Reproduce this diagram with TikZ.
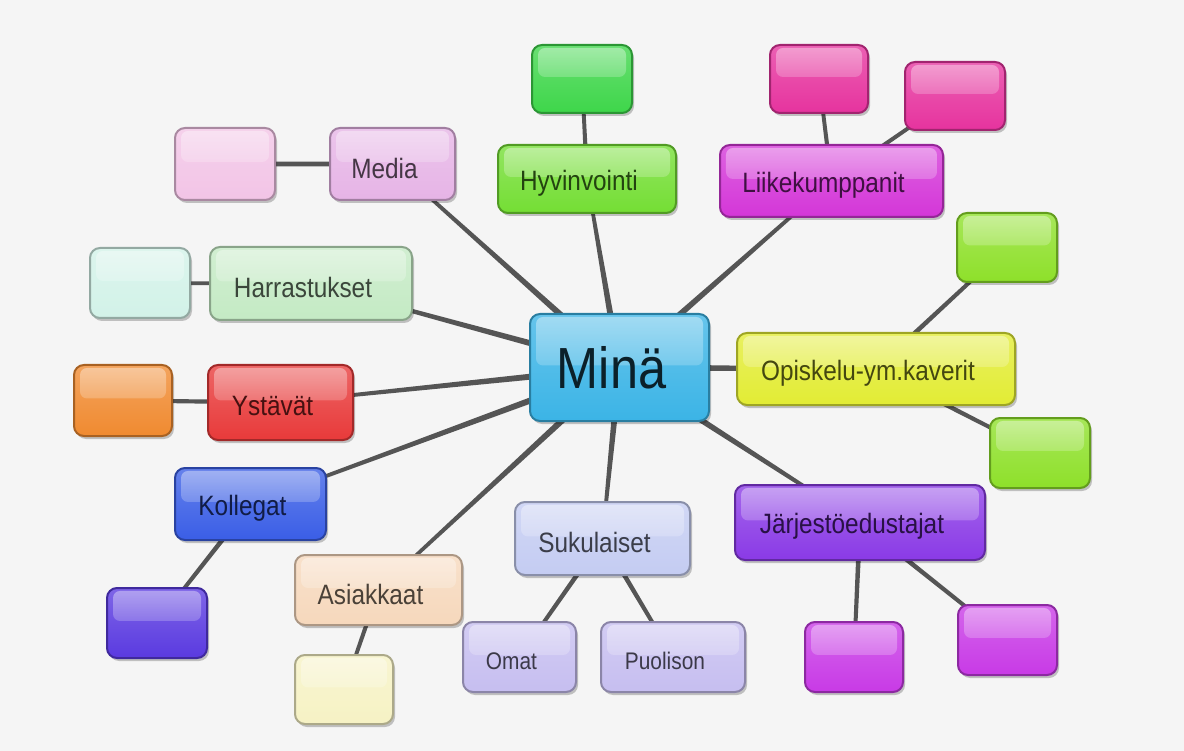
\documentclass[tikz,border=0pt]{standalone}
\usepackage{fontspec}
\setmainfont{Liberation Sans}[FakeStretch=0.87]
\usetikzlibrary{calc,shadows,backgrounds,fadings}
\definecolor{cMina}{HTML}{3BB4E6}
\definecolor{cMedia}{HTML}{E6B4E6}
\definecolor{cPinkL}{HTML}{F2C4E6}
\definecolor{cHyv}{HTML}{74DE34}
\definecolor{cGreen}{HTML}{3ED64A}
\definecolor{cLiike}{HTML}{D436D8}
\definecolor{cPink}{HTML}{E6339E}
\definecolor{cHarr}{HTML}{C4EAC4}
\definecolor{cCyanL}{HTML}{D2F2E8}
\definecolor{cYst}{HTML}{E83A3A}
\definecolor{cOrange}{HTML}{F08A30}
\definecolor{cOpis}{HTML}{E2EC34}
\definecolor{cLime}{HTML}{8EE02A}
\definecolor{cKoll}{HTML}{3A5EE6}
\definecolor{cBlueV}{HTML}{5A3AE0}
\definecolor{cAsia}{HTML}{F6D8BC}
\definecolor{cCream}{HTML}{F6F2C4}
\definecolor{cSuku}{HTML}{C4CCF2}
\definecolor{cLav}{HTML}{C6BEF0}
\definecolor{cJarj}{HTML}{8A3AE6}
\definecolor{cPurp}{HTML}{C83AE6}
\definecolor{cSpoke}{HTML}{555555}
\definecolor{cBg}{HTML}{F5F5F5}
\tikzset{
  nb/.style={rectangle, rounded corners=10pt, inner sep=0pt, line width=2pt,
    draw=#1!70!black, top color=#1!78!white, bottom color=#1,
    text=#1!30!black,
    drop shadow={shadow xshift=2pt, shadow yshift=-3pt, opacity=0.22, fill=black},
    path picture={\fill[white,opacity=0.4,path fading=south,rounded corners=7pt]
      ([xshift=6pt,yshift=-3pt]path picture bounding box.north west) rectangle
      ([xshift=-6pt,yshift=2pt]path picture bounding box.east);},
    font=\fontsize{28}{30}\selectfont},
  sz/.style n args={2}{minimum width=#1pt, minimum height=#2pt},
  spoke/.style={fill=cSpoke}
}
\newcommand\tx[2][8pt]{\raisebox{0pt}[\dimexpr\height+#1\relax][\depth]{#2}\hspace*{16pt}}
\newcommand\spk[4]{\fill[spoke] ($(#1)!#3!90:(#2)$) -- ($(#1)!#3!-90:(#2)$) -- ($(#2)!#4!90:(#1)$) -- ($(#2)!#4!-90:(#1)$) -- cycle;}
\begin{document}
\begin{tikzpicture}[x=1pt,y=-1pt]
\useasboundingbox (0,0) rectangle (1184,751);
% nodes
\node[nb=cMina, sz={179}{107}, font=\fontsize{58}{60}\selectfont, text=cMina!18!black] (mina) at (619.5,367.5) {\tx[0pt]{Minä}};
\node[nb=cMedia, sz={125}{72}] (media) at (392.5,164) {\tx{Media}};
\node[nb=cPinkL, sz={100}{72}] (mediax) at (225,164) {};
\node[nb=cHyv, sz={178}{68}] (hyv) at (587,179) {\tx{Hyvinvointi}};
\node[nb=cGreen, sz={100}{68}] (hyvx) at (582,79) {};
\node[nb=cLiike, sz={223}{72}] (liike) at (831.5,181) {\tx{Liikekumppanit}};
\node[nb=cPink, sz={98}{68}] (liikea) at (819,79) {};
\node[nb=cPink, sz={100}{68}] (liikeb) at (955,96) {};
\node[nb=cHarr, sz={202}{73}] (harr) at (311,283.5) {\tx{Harrastukset}};
\node[nb=cCyanL, sz={100}{70}] (harrx) at (140,283) {};
\node[nb=cYst, sz={145}{75}] (yst) at (280.5,402.5) {\tx{Ystävät}};
\node[nb=cOrange, sz={98}{71}] (ystx) at (123,400.5) {};
\node[nb=cOpis, sz={278}{72}] (opis) at (876,369) {\tx{Opiskelu-ym.kaverit}};
\node[nb=cLime, sz={100}{69}] (opisa) at (1007,247.5) {};
\node[nb=cLime, sz={100}{70}] (opisb) at (1040,453) {};
\node[nb=cKoll, sz={151}{72}] (koll) at (250.5,504) {\tx{Kollegat}};
\node[nb=cBlueV, sz={100}{70}] (kollx) at (157,623) {};
\node[nb=cAsia, sz={167}{70}] (asia) at (378.5,590) {\tx{Asiakkaat}};
\node[nb=cCream, sz={98}{69}] (asiax) at (344,689.5) {};
\node[nb=cSuku, sz={175}{73}] (suku) at (602.5,538.5) {\tx{Sukulaiset}};
\node[nb=cLav, sz={113}{70}, font=\fontsize{24}{26}\selectfont] (omat) at (519.5,657) {\tx{Omat}};
\node[nb=cLav, sz={144}{70}, font=\fontsize{24}{26}\selectfont] (puol) at (673,657) {\tx{Puolison}};
\node[nb=cJarj, sz={250}{75}] (jarj) at (860,522.5) {\tx{Järjestöedustajat}};
\node[nb=cPurp, sz={98}{70}] (jarja) at (854,657) {};
\node[nb=cPurp, sz={99}{70}] (jarjb) at (1007.5,640) {};
% connectors
\begin{pgfonlayer}{background}
\fill[cBg] (0,0) rectangle (1184,751);
\foreach \c in {media,hyv,liike,harr,yst,opis,koll,asia,suku,jarj}{\spk{mina}{\c}{3.5pt}{1.5pt}}
\spk{media}{mediax}{2.5pt}{2.2pt}
\spk{hyv}{hyvx}{2.2pt}{1.8pt}
\spk{liike}{liikea}{2.2pt}{1.8pt}
\spk{liike}{liikeb}{2.2pt}{1.8pt}
\spk{harr}{harrx}{2pt}{1.8pt}
\spk{yst}{ystx}{2.2pt}{2pt}
\spk{opis}{opisa}{2.5pt}{1.8pt}
\spk{opis}{opisb}{2.5pt}{1.8pt}
\spk{koll}{kollx}{2.5pt}{1.8pt}
\spk{asia}{asiax}{2.2pt}{1.8pt}
\spk{suku}{omat}{2.5pt}{1.8pt}
\spk{suku}{puol}{2.5pt}{1.8pt}
\spk{jarj}{jarja}{2.5pt}{1.8pt}
\spk{jarj}{jarjb}{2.5pt}{1.8pt}
\end{pgfonlayer}
\end{tikzpicture}
\end{document}
